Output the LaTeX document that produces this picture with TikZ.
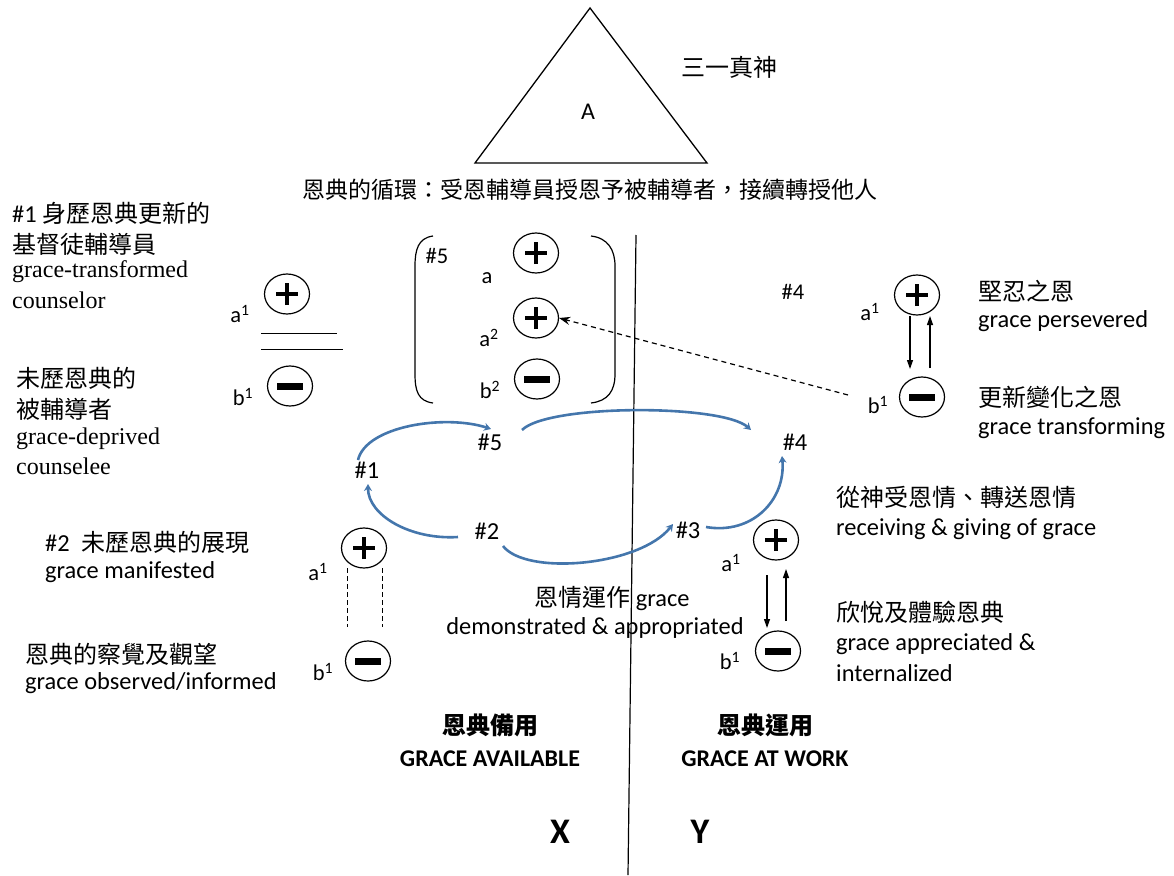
\documentclass[tikz,border=0pt]{standalone}
\usepackage{fontspec}
\setmainfont{Carlito}
\newfontfamily\cjk{Noto Sans CJK TC}
\newfontfamily\tnr{Liberation Serif}
\newcommand\zhtxt[1]{{\cjk\fontsize{24}{28}\selectfont #1}}
\usetikzlibrary{arrows.meta,shapes.geometric}
\definecolor{cycblue}{RGB}{68,118,172}
\begin{document}
\begin{tikzpicture}[x=1pt,y=-1pt,
  txt/.style={inner sep=0pt, anchor=west, font=\fontsize{24.4}{28}\selectfont},
  serif/.style={inner sep=0pt, anchor=west, font=\tnr\fontsize{24}{28}\selectfont},
  ctxt/.style={inner sep=0pt, font=\fontsize{24.4}{28}\selectfont},
  sup/.style={inner sep=0pt, font=\fontsize{22.5}{26}\selectfont},
  circ/.style={ellipse, draw, line width=1.2pt, minimum width=45pt, minimum height=40pt, inner sep=0pt},
  plusc/.style={circ, path picture={\draw[line width=3.8pt] ([xshift=-11pt]path picture bounding box.center) -- ([xshift=11pt]path picture bounding box.center) ([yshift=-11pt]path picture bounding box.center) -- ([yshift=11pt]path picture bounding box.center);}},
  minusc/.style={circ, path picture={\fill ([xshift=-13pt,yshift=-3.5pt]path picture bounding box.center) rectangle ([xshift=13pt,yshift=3.5pt]path picture bounding box.center);}},
  cyc/.style={draw=cycblue, line width=2.6pt, -{Stealth[length=7pt,width=8pt]}},
  updown/.style={line width=1.2pt, -{Triangle[length=9pt,width=6pt]}},
  thin/.style={line width=1pt}
]
\useasboundingbox (0,0) rectangle (1174,875);

% triangle
\coordinate (tA) at (590,8);
\coordinate (tB) at (475,163);
\coordinate (tC) at (707,163);
\draw[line width=1.3pt] (tA) -- (tB) -- (tC) -- cycle;
\node[ctxt, font=\fontsize{24}{28}\selectfont] (lA) at (588,112) {A};
\node[ctxt] (god) at (729,67) {\zhtxt{三一真神}};
\node[ctxt] (title) at (590,190) {\cjk\fontsize{23}{27}\selectfont 恩典的循環：受恩輔導員授恩予被輔導者，接續轉授他人};

% divider
\coordinate (vt) at (636,235);
\coordinate (vb) at (628,875);
\draw[line width=1.2pt] (vt) -- (vb);

% left block #1
\node[txt] (t1a) at (12,213) {\#1 \zhtxt{身歷恩典更新的}};
\node[txt] (t1b) at (12,244) {\zhtxt{基督徒輔導員}};
\node[serif] (t1c) at (12,272) {grace-transformed};
\node[serif] (t1d) at (12,300) {counselor};
\node[txt] (t1e) at (16,378) {\zhtxt{未歷恩典的}};
\node[txt] (t1f) at (16,409) {\zhtxt{被輔導者}};
\node[serif] (t1g) at (16,439) {grace-deprived};
\node[serif] (t1h) at (16,466) {counselee};

\node[plusc] (L1p) at (287,294) {};
\node[minusc] (L1m) at (290,386) {};
\node[sup] (L1a) at (240,314) {a\textsuperscript{1}};
\node[sup] (L1b) at (243,397) {b\textsuperscript{1}};
\coordinate (f1a) at (261,333); \coordinate (f1b) at (337,333);
\coordinate (f2a) at (261,349); \coordinate (f2b) at (343,349);
\draw[thin] (f1a) -- (f1b);
\draw[thin] (f2a) -- (f2b);

% bracket block #5
\draw[line width=1.2pt] (433,236) .. controls (418,238) and (415,250) .. (415,266) -- (415,374) .. controls (415,391) and (418,401) .. (433,403);
\draw[line width=1.2pt] (591,236) .. controls (608,238) and (615,250) .. (615,266) -- (615,374) .. controls (615,391) and (608,401) .. (591,403);
\node[sup] (B5) at (437,256) {\#5};
\node[sup] (Ba) at (487,278) {a};
\node[sup] (Ba2) at (489,338) {a\textsuperscript{2}};
\node[sup] (Bb2) at (490,390) {b\textsuperscript{2}};
\node[plusc] (Bp1) at (536,253) {};
\node[plusc] (Bp2) at (536,318) {};
\node[minusc] (Bm) at (537,379) {};

% right top #4
\node[sup] (R4) at (793,292) {\#4};
\node[plusc] (R4p) at (917,295) {};
\node[minusc] (R4m) at (922,397) {};
\node[sup] (R4a) at (870,312) {a\textsuperscript{1}};
\node[sup] (R4b) at (878,405) {b\textsuperscript{1}};
\coordinate (d1s) at (910,316); \coordinate (d1e) at (910,369);
\coordinate (u1s) at (930,368); \coordinate (u1e) at (930,316);
\draw[updown] (d1s) -- (d1e);
\draw[updown] (u1s) -- (u1e);
\node[txt] (t4a) at (978,291) {\zhtxt{堅忍之恩}};
\node[txt] (t4b) at (978,321) {grace persevered};
\node[txt] (t4c) at (978,397) {\zhtxt{更新變化之恩}};
\node[txt] (t4d) at (978,428) {grace transforming};

% dashed arrow
\coordinate (dsh) at (848,395);
\draw[line width=1.2pt, dash pattern=on 5pt off 4pt, -{Stealth[length=11pt,width=8pt]}] (dsh) -- (Bp2.east);

% cycle labels
\node[ctxt] (n5) at (490,442) {\#5};
\node[ctxt] (n4) at (795,442) {\#4};
\node[ctxt] (n1) at (367,470) {\#1};
\node[ctxt] (n2) at (487,531) {\#2};
\node[ctxt] (n3) at (688,530) {\#3};

\coordinate (c15s) at (358,460); \coordinate (c15e) at (491,429);
\coordinate (c54s) at (522,430); \coordinate (c54e) at (751,430);
\coordinate (c34s) at (706,527); \coordinate (c34e) at (782,456);
\coordinate (c23s) at (503,546); \coordinate (c23e) at (673,524);
\coordinate (c21s) at (458,537); \coordinate (c21e) at (368,484);
\draw[cyc] (c15s) .. controls (366,426) and (445,414) .. (c15e);
\draw[cyc] (c54s) .. controls (548,404) and (722,404) .. (c54e);
\draw[cyc] (c34s) .. controls (752,535) and (786,500) .. (c34e);
\draw[cyc] (c23s) .. controls (526,576) and (640,566) .. (c23e);
\draw[cyc] (c21s) .. controls (410,540) and (368,515) .. (c21e);

% right #3 block
\node[txt] (t3a) at (836,497) {\zhtxt{從神受恩情、轉送恩情}};
\node[txt] (t3b) at (836,529) {receiving \& giving of grace};
\node[txt] (t3c) at (836,612) {\zhtxt{欣悅及體驗恩典}};
\node[txt] (t3d) at (836,644) {grace appreciated \&};
\node[txt] (t3e) at (836,673) {internalized};
\node[plusc] (R3p) at (776,540) {};
\node[minusc] (R3m) at (778,651) {};
\node[sup] (R3a) at (731,563) {a\textsuperscript{1}};
\node[sup] (R3b) at (730,661) {b\textsuperscript{1}};
\coordinate (d3s) at (767,575); \coordinate (d3e) at (767,628);
\coordinate (u3s) at (786,621); \coordinate (u3e) at (786,569);
\draw[updown] (d3s) -- (d3e);
\draw[updown] (u3s) -- (u3e);

% left #2 block
\node[txt] (t2a) at (45,542) {\#2\hspace{12pt}\zhtxt{未歷恩典的展現}};
\node[txt] (t2b) at (45,572) {grace manifested};
\node[txt] (t2c) at (25,654) {\zhtxt{恩典的察覺及觀望}};
\node[txt] (t2d) at (25,683) {grace observed/informed};
\node[plusc] (L2p) at (364,548) {};
\node[minusc] (L2m) at (368,661) {};
\node[sup] (L2a) at (318,572) {a\textsuperscript{1}};
\node[sup] (L2b) at (323,672) {b\textsuperscript{1}};
\coordinate (g1s) at (347,568); \coordinate (g1e) at (347,627);
\coordinate (g2s) at (382,568); \coordinate (g2e) at (382,627);
\draw[thin, dash pattern=on 5pt off 3pt] (g1s) -- (g1e);
\draw[thin, dash pattern=on 5pt off 3pt] (g2s) -- (g2e);

% center text
\node[ctxt] (ga) at (612,598) {\zhtxt{恩情運作} grace};
\node[ctxt] (gb) at (595,628) {demonstrated \& appropriated};

% bottom
\node[ctxt] (bx1) at (490,725) {\cjk\bfseries\fontsize{24}{28}\selectfont 恩典備用};
\node[ctxt, font=\bfseries\fontsize{24}{28}\selectfont] (bx2) at (490,759) {GRACE AVAILABLE};
\node[ctxt] (by1) at (765,725) {\cjk\bfseries\fontsize{24}{28}\selectfont 恩典運用};
\node[ctxt, font=\bfseries\fontsize{24}{28}\selectfont] (by2) at (765,759) {GRACE AT WORK};
\node[ctxt, font=\bfseries\fontsize{36}{42}\selectfont] (X) at (560,832) {X};
\node[ctxt, font=\bfseries\fontsize{36}{42}\selectfont] (Y) at (700,832) {Y};
\end{tikzpicture}
\end{document}
